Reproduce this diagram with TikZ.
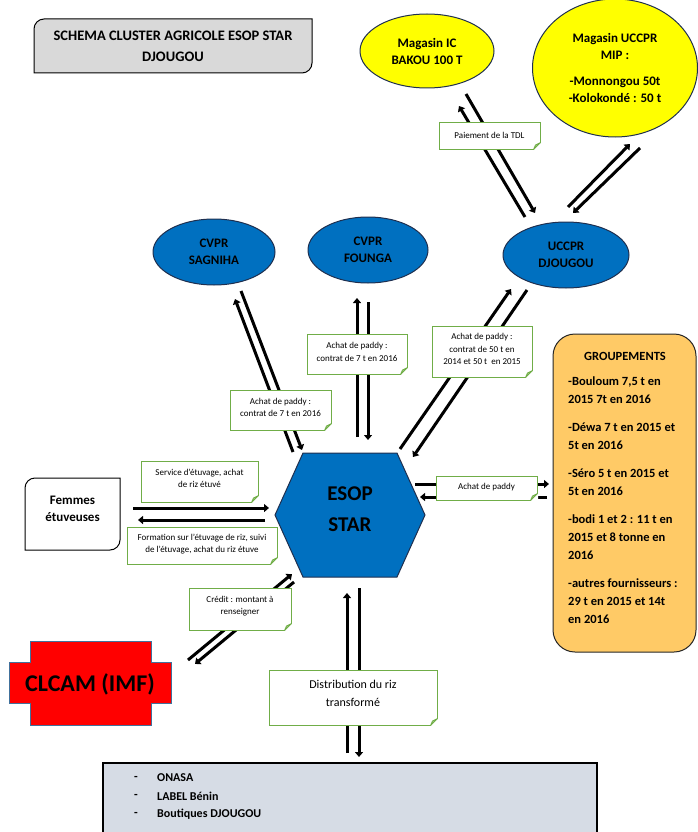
\documentclass[tikz,border=0pt]{standalone}
\usepackage{fontspec}
\setmainfont{Carlito}
\usetikzlibrary{shapes.geometric,arrows.meta}

\definecolor{orgblue}{HTML}{0070C0}
\definecolor{orgedge}{HTML}{1F2F4F}
\definecolor{magyellow}{HTML}{FFFF00}
\definecolor{notegreen}{HTML}{70AD47}
\definecolor{foldgreen}{HTML}{A9D18E}
\definecolor{titlegray}{HTML}{D9D9D9}
\definecolor{groupfill}{HTML}{FFCA66}
\definecolor{clientfill}{HTML}{D6DCE5}
\definecolor{clcamred}{HTML}{FF0000}
\definecolor{clcamedge}{HTML}{41719C}

\begin{document}
\begin{tikzpicture}[x=1pt,y=-1pt,
  every node/.style={inner sep=0pt},
  flow/.style={line width=3pt,-{Triangle[length=5pt,width=8pt]}},
  notelbl/.style={draw=notegreen,line width=1pt,fill=white},
  notetxt/.style={align=center,font=\fontsize{9}{12.5}\selectfont},
  bluebody/.style={ellipse,draw=orgedge,line width=1pt,fill=orgblue,align=center,
    font=\fontsize{13}{17}\selectfont\bfseries},
  magbody/.style={ellipse,draw=orgedge,line width=1pt,fill=magyellow,align=center,
    font=\fontsize{13}{17}\selectfont\bfseries},
  boldtxt/.style={align=center,font=\fontsize{13}{17}\selectfont\bfseries},
  itemtxt/.style={anchor=west,font=\fontsize{12}{15}\selectfont\bfseries}
]
\useasboundingbox (0,0) rectangle (697,832);

% ---------- title ----------
\draw[fill=titlegray,line width=1pt]
  (34,73) -- (34,29) .. controls (34,23.5) and (38.5,19) .. (44,19)
  -- (312,19) -- (312,63) .. controls (312,68.5) and (307.5,73) .. (302,73) -- cycle;
\node[boldtxt,font=\fontsize{14.5}{21}\selectfont\bfseries] (title) at (173,46)
  {SCHEMA CLUSTER AGRICOLE ESOP STAR\\DJOUGOU};

% ---------- stores ----------
\node[magbody,minimum width=134,minimum height=74] (bakou) at (427,51)
  {Magasin IC\\BAKOU 100 T};
\node[magbody,minimum width=165,minimum height=138] (mip) at (615,68)
  {Magasin UCCPR\\MIP :\\[9pt]-Monnongou 50t\\-Kolokondé : 50 t};

% ---------- producer unions ----------
\node[bluebody,minimum width=122,minimum height=66] (sagniha) at (214,252) {CVPR\\SAGNIHA};
\node[bluebody,minimum width=120,minimum height=66] (founga) at (368,250) {CVPR\\FOUNGA};
\node[bluebody,minimum width=126,minimum height=66] (uccpr) at (566,255) {UCCPR\\DJOUGOU};

% ---------- ESOP hexagon ----------
\draw[fill=orgblue,draw=orgedge,line width=1pt]
  (275,515) -- (303,453) -- (397,453) -- (425,515) -- (397,577) -- (303,577) -- cycle;
\node[boldtxt,font=\fontsize{21}{31}\selectfont\bfseries] (esop) at (350,509) {ESOP\\STAR};

% ---------- parboiling women ----------
\draw[fill=white,line width=1pt]
  (25,550) -- (25,488) .. controls (25,482.5) and (29.5,478) .. (35,478)
  -- (120,478) -- (120,540) .. controls (120,545.5) and (115.5,550) .. (110,550) -- cycle;
\node[boldtxt] (femmes) at (72.5,509) {Femmes\\étuveuses};

% ---------- CLCAM ----------
\draw[fill=clcamred,draw=clcamedge,line width=1pt]
  (30,641) -- (151,641) -- (151,662) -- (171,662) -- (171,703) -- (151,703)
  -- (151,725) -- (30,725) -- (30,703) -- (9,703) -- (9,662) -- (30,662) -- cycle;
\node[boldtxt,font=\fontsize{24}{28}\selectfont\bfseries] (clcam) at (90,684) {CLCAM (IMF)};

% ---------- groups of suppliers ----------
\draw[fill=groupfill,draw=black!85,line width=1pt,rounded corners=22]
  (553,334) rectangle (696,652);
\node[boldtxt,font=\fontsize{12.5}{18}\selectfont\bfseries] (grptitle) at (625,356) {GROUPEMENTS};
\node[anchor=north west,align=left,font=\fontsize{12.5}{18}\selectfont\bfseries] (grplist) at (568,377)
  {-Bouloum 7,5 t en\\2015 7t en 2016\\[10pt]
   -Déwa 7 t en 2015 et\\5t en 2016\\[10pt]
   -Séro 5 t en 2015 et\\5t en 2016\\[10pt]
   -bodi 1 et 2 : 11 t en\\2015 et 8 tonne en\\2016\\[10pt]
   -autres fournisseurs :\\29 t en 2015 et 14t\\en 2016};

% ---------- customers ----------
\draw[fill=clientfill,line width=1.5pt] (103,763) rectangle (597,845);
\node[itemtxt] (d1) at (134,778) {-};
\node[itemtxt] (c1) at (157,778) {ONASA};
\node[itemtxt] (d2) at (134,796) {-};
\node[itemtxt] (c2) at (157,796) {LABEL Bénin};
\node[itemtxt] (d3) at (134,814) {-};
\node[itemtxt] (c3) at (157,814) {Boutiques DJOUGOU};

% ---------- arrow end points ----------
\coordinate (bkA) at (466,94);   \coordinate (bkB) at (535,213);
\coordinate (bkC) at (525,217);  \coordinate (bkD) at (459,106);
\coordinate (mpA) at (568,207);  \coordinate (mpB) at (630,144);
\coordinate (mpC) at (640,148);  \coordinate (mpD) at (573,213);
\coordinate (sgA) at (241,291);  \coordinate (sgB) at (302,450);
\coordinate (sgC) at (293,452);  \coordinate (sgD) at (235,299);
\coordinate (fgA) at (357,437);  \coordinate (fgB) at (357,298);
\coordinate (fgC) at (368,302);  \coordinate (fgD) at (368,440);
\coordinate (ucA) at (400,449);  \coordinate (ucB) at (511,289);
\coordinate (ucC) at (527,290);  \coordinate (ucD) at (413,457);
\coordinate (grA) at (415,484);  \coordinate (grB) at (549,484);
\coordinate (grC) at (547,497);  \coordinate (grD) at (420,497);
\coordinate (fmA) at (133,508);  \coordinate (fmB) at (269,508);
\coordinate (fmC) at (265,520);  \coordinate (fmD) at (138,520);
\coordinate (clA) at (188,660);  \coordinate (clB) at (292,574);
\coordinate (clC) at (294,582);  \coordinate (clD) at (195,664);
\coordinate (dsA) at (347,753);  \coordinate (dsB) at (347,593);
\coordinate (dsC) at (359,588);  \coordinate (dsD) at (359,757);

% ---------- flows ----------
\draw[flow] (bkA) -- (bkB);  \draw[flow] (bkC) -- (bkD);
\draw[flow] (mpA) -- (mpB);  \draw[flow] (mpC) -- (mpD);
\draw[flow] (sgA) -- (sgB);  \draw[flow] (sgC) -- (sgD);
\draw[flow] (fgA) -- (fgB);  \draw[flow] (fgC) -- (fgD);
\draw[flow] (ucA) -- (ucB);  \draw[flow] (ucC) -- (ucD);
\draw[flow] (grA) -- (grB);  \draw[flow] (grC) -- (grD);
\draw[flow] (fmA) -- (fmB);  \draw[flow] (fmC) -- (fmD);
\draw[flow] (clA) -- (clB);  \draw[flow] (clC) -- (clD);
\draw[flow] (dsA) -- (dsB);  \draw[flow] (dsC) -- (dsD);

% ---------- flow labels (boxes) ----------
\node[notelbl,minimum width=101,minimum height=26] (ntdl) at (489.5,136) {};
\node[notelbl,minimum width=101,minimum height=40] (nsag) at (280.5,410) {};
\node[notelbl,minimum width=100,minimum height=40] (nfou) at (357,354) {};
\node[notelbl,minimum width=100,minimum height=51] (nucc) at (482,351.5) {};
\node[notelbl,minimum width=101,minimum height=24] (ngrp) at (486.5,488) {};
\node[notelbl,minimum width=117,minimum height=41] (nserv) at (199.5,481.5) {};
\node[notelbl,minimum width=150,minimum height=37] (nform) at (202,545.5) {};
\node[notelbl,minimum width=102,minimum height=42] (ncred) at (240,609) {};
\node[notelbl,minimum width=168,minimum height=55] (ndist) at (353,697.5) {};

% folded corners of the labels
\foreach \n in {ntdl,nsag,nfou,nucc,ngrp,nserv,nform,ncred,ndist}{
  \fill[white] ([xshift=-7pt,yshift=-0.6pt]\n.south east) -- ([xshift=0.6pt,yshift=-0.6pt]\n.south east)
    -- ([xshift=0.6pt,yshift=7pt]\n.south east) -- cycle;
  \filldraw[fill=foldgreen,draw=notegreen,line width=0.8pt,line join=round]
    ([xshift=-7pt]\n.south east) -- ([yshift=7pt]\n.south east)
    -- ([xshift=-5pt,yshift=4.5pt]\n.south east) -- cycle;
}

% ---------- flow labels (texts) ----------
\node[notetxt] (ttdl) at (489.5,135) {Paiement de la TDL};
\node[notetxt] (tsag) at (280.5,407.5) {Achat de paddy :\\contrat de 7 t en 2016};
\node[notetxt] (tfou) at (357,351.7) {Achat de paddy :\\contrat de 7 t en 2016};
\node[notetxt] (tucc) at (482,349) {Achat de paddy :\\contrat de 50 t en\\2014 et 50 t~ en 2015};
\node[notetxt] (tgrp) at (486.5,487) {Achat de paddy};
\node[notetxt] (tserv) at (199.5,478.5) {Service d’étuvage, achat\\de riz étuvé};
\node[notetxt] (tform) at (202,544) {Formation sur l’étuvage de riz, suivi\\de l’étuvage, achat du riz étuve};
\node[notetxt] (tcred) at (240,606) {Crédit : montant à\\renseigner};
\node[notetxt,font=\fontsize{12}{18}\selectfont] (tdist) at (353,693) {Distribution du riz\\transformé};
\end{tikzpicture}
\end{document}
